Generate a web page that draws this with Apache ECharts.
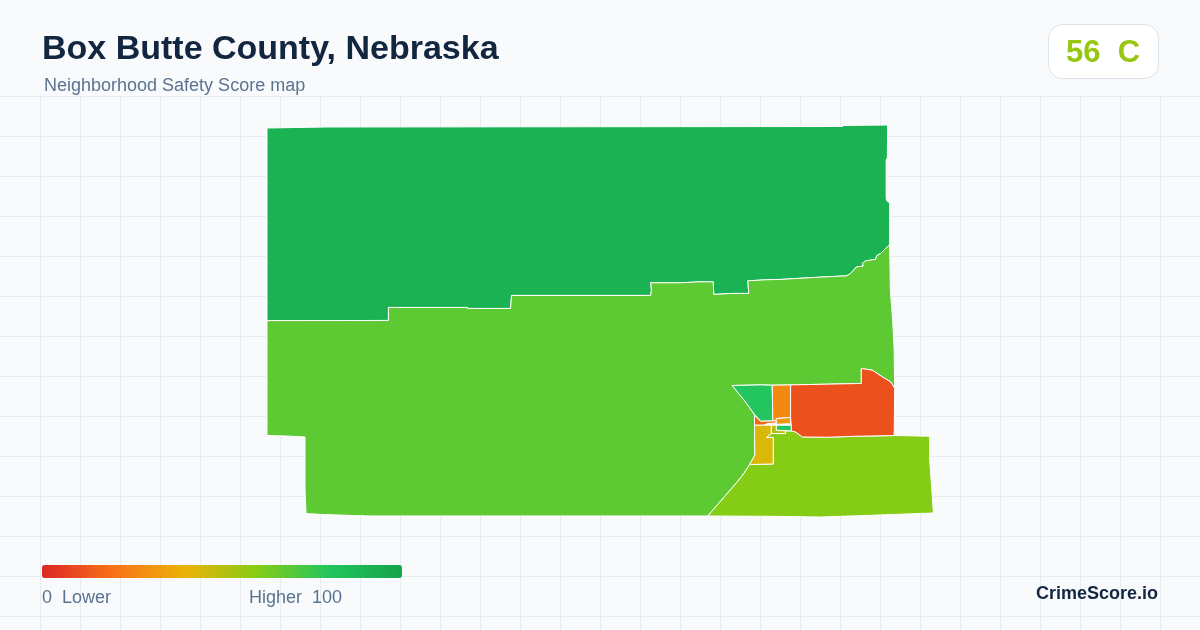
<!DOCTYPE html>
<html>

<head>
    <meta charset="utf-8">
    <title>Box Butte County, Nebraska</title>
    <script src="https://cdn.jsdelivr.net/npm/echarts@6/dist/echarts.min.js"></script>
    <style>
        html, body { margin: 0; padding: 0; }
        #main { width: 1200px; height: 630px; }
    </style>
</head>

<body>
    <div id="main"></div>
    <script type="text/javascript">
        var titleText = 'Box Butte County, Nebraska';
        var subtitleText = 'Neighborhood Safety Score map';
        var countyScore = '56  C';
        var legendLow = '0  Lower';
        var legendHigh = 'Higher  100';
        var brandText = 'CrimeScore.io';

        var scoreColors = ['#dc2626', '#f97316', '#eab308', '#84cc16', '#22c55e', '#16a34a'];

        var tractNames = ['north', 'southwest', 'southeast', 'east', 'airport', 'city-a', 'city-b', 'city-c', 'city-d', 'city-e', 'city-f'];
        var tractScores = [91, 68, 60, 11, 80, 27, 31, 80, 50, 17, 43];

        // outlines, x to the right and y downwards
        var tractOutlines = [
            [[267, 128], [325, 127], [842, 126.5], [842, 125.5], [887, 125], [886.7, 158], [885.5, 160], [885.5, 198], [886, 200.5], [889, 203], [889, 244.5], [883.3, 250], [880, 253.3], [876, 255.7], [875, 259.3], [870, 260], [865, 260.7], [861.7, 263.3], [862.7, 266], [856, 266.7], [850, 273.3], [846, 275.7], [820, 277], [780, 279.3], [765, 279.7], [747.3, 280.7], [748.3, 293.3], [731, 293.3], [713.3, 294.3], [712.7, 281.7], [699.3, 281.7], [680, 282.7], [650.3, 282.7], [651, 290], [650.3, 295.3], [511.3, 295.3], [510.3, 308.3], [467.3, 308.3], [467.3, 307.3], [388.3, 307.3], [388.3, 320.3], [267, 320.5]],
            [[267, 320.5], [388.3, 320.3], [388.3, 307.3], [467.3, 307.3], [467.3, 308.3], [510.3, 308.3], [511.3, 295.3], [650.3, 295.3], [651, 290], [650.3, 282.7], [680, 282.7], [699.3, 281.7], [712.7, 281.7], [713.3, 294.3], [731, 293.3], [748.3, 293.3], [747.3, 280.7], [765, 279.7], [780, 279.3], [820, 277], [846, 275.7], [850, 273.3], [856, 266.7], [862.7, 266], [861.7, 263.3], [865, 260.7], [870, 260], [875, 259.3], [876, 255.7], [880, 253.3], [883.3, 250], [889, 244.5], [889.7, 290], [892, 320], [893.5, 350], [894, 388], [890, 381.7], [881.7, 376.7], [871.7, 370], [860.7, 368.3], [860.7, 383.3], [825, 384], [790, 384.7], [771.7, 385], [760, 384.7], [731.7, 385.3], [745, 401.7], [753.3, 413.3], [754, 415], [754, 425], [754.3, 455], [749, 464.3], [743.3, 473.3], [736.7, 481.7], [707.3, 515.7], [443, 515.7], [370, 515.7], [325, 514.3], [306, 513.3], [305, 490], [305, 436.7], [285, 435.7], [267, 435.3]],
            [[707.3, 515.7], [736.7, 481.7], [743.3, 473.3], [749, 464.3], [772.7, 463.7], [772.7, 437.3], [766, 437.3], [770.7, 433.3], [785, 433.3], [785, 430.7], [790.7, 430.7], [795, 431.7], [801.7, 436.7], [826.7, 437], [855, 436], [893.5, 435.3], [929, 436], [929, 460], [930.7, 483.3], [932.7, 512.7], [870, 515], [820, 516.7], [770, 516]],
            [[790, 384.7], [825, 384], [860.7, 383.3], [860.7, 368.3], [871.7, 370], [881.7, 376.7], [890, 381.7], [894, 388], [893.5, 435.3], [855, 436], [826.7, 437], [801.7, 436.7], [795, 431.7], [790.7, 430.7], [790.7, 425], [790, 417.3]],
            [[731.7, 385.3], [760, 384.7], [771.7, 385], [772.3, 420.7], [760, 421], [753.3, 413.3], [745, 401.7]],
            [[771.7, 385], [790, 384.7], [790, 417.3], [775.7, 418.3], [775.7, 420.7], [772.3, 420.7]],
            [[775.7, 418.3], [790, 417.3], [790, 423.5], [775.7, 424]],
            [[775.7, 425], [790.7, 425], [790.7, 430.7], [775.7, 430]],
            [[770.7, 425], [775.7, 425], [775.7, 430], [785, 430.7], [785, 433.3], [770.7, 433.3]],
            [[754, 415], [760, 421], [772.3, 420.7], [775.7, 420.7], [775.7, 422.7], [766.7, 423.3], [763.3, 425], [754, 425]],
            [[754, 425], [770.7, 425], [770.7, 433.3], [766, 437.3], [772.7, 437.3], [772.7, 463.7], [749, 464.3], [754.3, 455]]
        ];

        var gridStep = 40;
        var gridTop = 96;

        function buildGeoJson() {
            return {
                type: 'FeatureCollection',
                features: tractNames.map(function (name, i) {
                    var ring = tractOutlines[i].map(function (p) {
                        return [p[0], -p[1]];
                    });
                    ring.push(ring[0]);
                    return {
                        type: 'Feature',
                        properties: { name: name },
                        geometry: { type: 'Polygon', coordinates: [ring] }
                    };
                })
            };
        }

        function buildGrid() {
            var lines = [];
            var x, y;
            for (x = gridStep; x < 1200; x += gridStep) {
                lines.push({
                    type: 'line', z: -1, silent: true,
                    shape: { x1: x + 0.5, y1: gridTop, x2: x + 0.5, y2: 630 },
                    style: { stroke: '#e6edf1', lineWidth: 1 }
                });
            }
            for (y = gridTop; y < 630; y += gridStep) {
                lines.push({
                    type: 'line', z: -1, silent: true,
                    shape: { x1: 0, y1: y + 0.5, x2: 1200, y2: y + 0.5 },
                    style: { stroke: '#e6edf1', lineWidth: 1 }
                });
            }
            return lines;
        }

        function label(text, x, y, font, color, align) {
            return {
                type: 'text', x: x, y: y, z: 5, silent: true,
                style: { text: text, font: font, fill: color, align: align || 'left', verticalAlign: 'middle' }
            };
        }

        echarts.registerMap('boxbutte', buildGeoJson());

        var myChart = echarts.init(document.getElementById('main'));

        var option = {
            backgroundColor: '#f8fafc',
            animation: false,
            visualMap: {
                type: 'continuous',
                seriesIndex: 0,
                min: 0,
                max: 100,
                orient: 'horizontal',
                left: 27,
                top: 550,
                itemWidth: 13,
                itemHeight: 360,
                borderRadius: 0,
                calculable: false,
                realtime: false,
                showLabel: false,
                text: ['', ''],
                inRange: { color: scoreColors }
            },
            series: [{
                type: 'map',
                map: 'boxbutte',
                aspectScale: 1,
                roam: false,
                silent: true,
                left: 267,
                top: 125,
                width: 666.4,
                height: 392,
                label: { show: false },
                emphasis: { disabled: true },
                select: { disabled: true },
                itemStyle: { borderColor: '#ffffff', borderWidth: 1 },
                data: tractNames.map(function (name, i) {
                    return { name: name, value: tractScores[i] };
                })
            }],
            graphic: {
                elements: buildGrid().concat([
                    label(titleText, 42, 50, 'bold 34px "Liberation Sans"', '#12263f'),
                    label(subtitleText, 44, 86, '18px "Liberation Sans"', '#5b7390'),
                    {
                        type: 'rect', z: 4, silent: true,
                        shape: { x: 1048.5, y: 24.5, width: 110, height: 54, r: 14 },
                        style: { fill: '#ffffff', stroke: '#dde3ec', lineWidth: 1 }
                    },
                    label(countyScore, 1103, 53, 'bold 31px "Liberation Sans"', '#98c713', 'center'),
                    label(legendLow, 42, 598, '18px "Liberation Sans"', '#5b7390'),
                    label(legendHigh, 342, 598, '18px "Liberation Sans"', '#5b7390', 'right'),
                    label(brandText, 1158, 594, 'bold 18px "Liberation Sans"', '#12263f', 'right')
                ])
            }
        };

        myChart.setOption(option);
    </script>
</body>

</html>
